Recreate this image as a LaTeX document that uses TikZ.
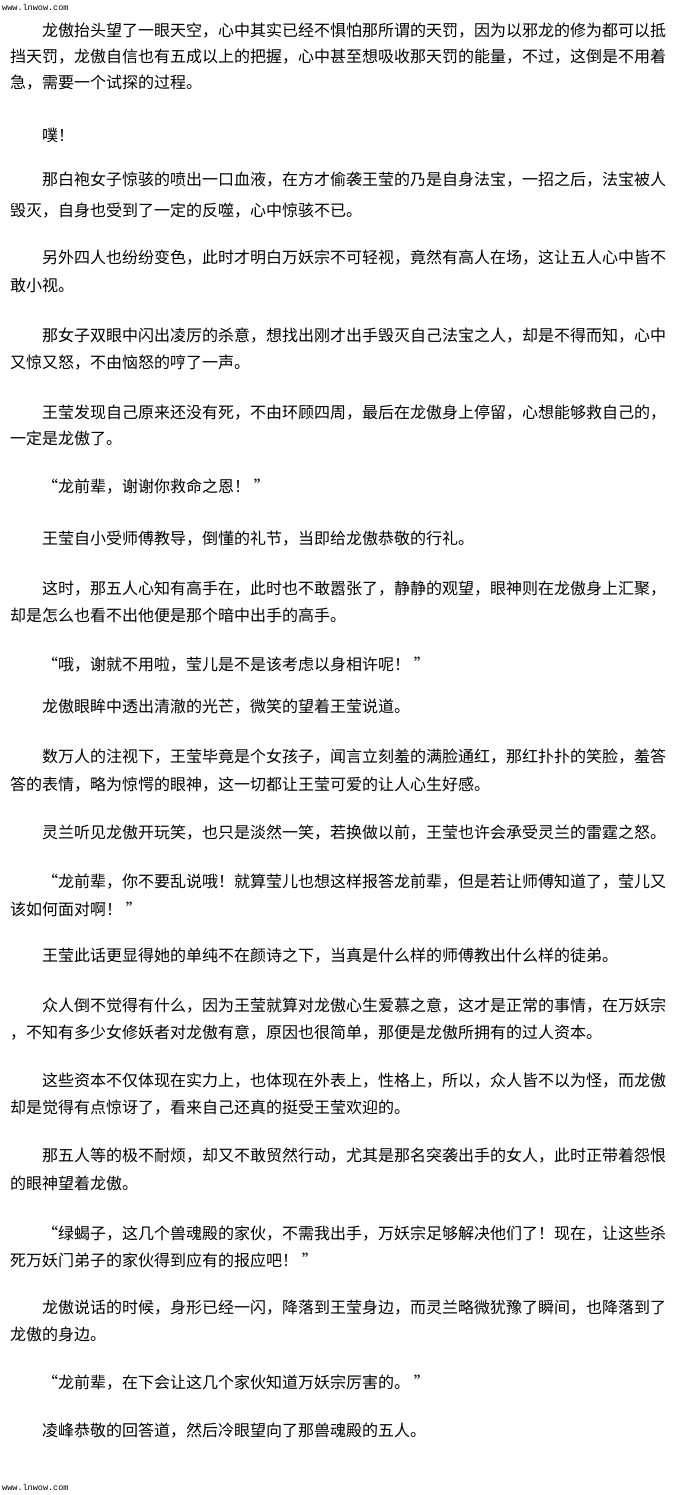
\documentclass[tikz,border=0pt]{standalone}
\usepackage{fontspec}
\newfontfamily\cjk{Noto Sans CJK SC}
\newfontfamily\webmono{Liberation Mono}
\newcommand\myoq{\makebox[1em][r]{“}}
\newcommand\mycq{\makebox[1em][l]{”}}
\begin{document}
\begin{tikzpicture}[x=1pt,y=-1pt,
  txt/.style={anchor=base west, inner sep=0pt, font=\cjk\fontsize{16}{16}\selectfont, text=black},
  web/.style={anchor=west, inner sep=0pt, font=\webmono\fontsize{8.5}{8.5}\selectfont, text=black}]
\useasboundingbox[fill=white] (0,0) rectangle (680,1495);
\node[web] (hdr) at (2,7) {www.lnwow.com};
\node[txt] (l1) at (42,37) {龙傲抬头望了一眼天空，心中其实已经不惧怕那所谓的天罚，因为以邪龙的修为都可以抵};
\node[txt] (l2) at (10,63) {挡天罚，龙傲自信也有五成以上的把握，心中甚至想吸收那天罚的能量，不过，这倒是不用着};
\node[txt] (l3) at (10,89) {急，需要一个试探的过程。};
\node[txt] (l4) at (42,142) {噗！};
\node[txt] (l5) at (42,186) {那白袍女子惊骇的喷出一口血液，在方才偷袭王莹的乃是自身法宝，一招之后，法宝被人};
\node[txt] (l6) at (10,217) {毁灭，自身也受到了一定的反噬，心中惊骇不已。};
\node[txt] (l7) at (42,264) {另外四人也纷纷变色，此时才明白万妖宗不可轻视，竟然有高人在场，这让五人心中皆不};
\node[txt] (l8) at (10,292) {敢小视。};
\node[txt] (l9) at (42,341) {那女子双眼中闪出凌厉的杀意，想找出刚才出手毁灭自己法宝之人，却是不得而知，心中};
\node[txt] (l10) at (10,368) {又惊又怒，不由恼怒的哼了一声。};
\node[txt] (l11) at (42,418) {王莹发现自己原来还没有死，不由环顾四周，最后在龙傲身上停留，心想能够救自己的，};
\node[txt] (l12) at (10,444) {一定是龙傲了。};
\node[txt] (l13) at (42,492) {\myoq 龙前辈，谢谢你救命之恩！ \mycq};
\node[txt] (l14) at (42,544) {王莹自小受师傅教导，倒懂的礼节，当即给龙傲恭敬的行礼。};
\node[txt] (l15) at (42,594) {这时，那五人心知有高手在，此时也不敢嚣张了，静静的观望，眼神则在龙傲身上汇聚，};
\node[txt] (l16) at (10,621) {却是怎么也看不出他便是那个暗中出手的高手。};
\node[txt] (l17) at (42,670) {\myoq 哦，谢就不用啦，莹儿是不是该考虑以身相许呢！ \mycq};
\node[txt] (l18) at (42,712) {龙傲眼眸中透出清澈的光芒，微笑的望着王莹说道。};
\node[txt] (l19) at (42,762) {数万人的注视下，王莹毕竟是个女孩子，闻言立刻羞的满脸通红，那红扑扑的笑脸，羞答};
\node[txt] (l20) at (10,790) {答的表情，略为惊愕的眼神，这一切都让王莹可爱的让人心生好感。};
\node[txt] (l21) at (42,838) {灵兰听见龙傲开玩笑，也只是淡然一笑，若换做以前，王莹也许会承受灵兰的雷霆之怒。};
\node[txt] (l22) at (42,887) {\myoq 龙前辈，你不要乱说哦！就算莹儿也想这样报答龙前辈，但是若让师傅知道了，莹儿又};
\node[txt] (l23) at (10,915) {该如何面对啊！ \mycq};
\node[txt] (l24) at (42,961) {王莹此话更显得她的单纯不在颜诗之下，当真是什么样的师傅教出什么样的徒弟。};
\node[txt] (l25) at (42,1011) {众人倒不觉得有什么，因为王莹就算对龙傲心生爱慕之意，这才是正常的事情，在万妖宗};
\node[txt] (l26) at (10,1038) {，不知有多少女修妖者对龙傲有意，原因也很简单，那便是龙傲所拥有的过人资本。};
\node[txt] (l27) at (42,1086) {这些资本不仅体现在实力上，也体现在外表上，性格上，所以，众人皆不以为怪，而龙傲};
\node[txt] (l28) at (10,1113) {却是觉得有点惊讶了，看来自己还真的挺受王莹欢迎的。};
\node[txt] (l29) at (42,1161) {那五人等的极不耐烦，却又不敢贸然行动，尤其是那名突袭出手的女人，此时正带着怨恨};
\node[txt] (l30) at (10,1189) {的眼神望着龙傲。};
\node[txt] (l31) at (42,1239) {\myoq 绿蝎子，这几个兽魂殿的家伙，不需我出手，万妖宗足够解决他们了！现在，让这些杀};
\node[txt] (l32) at (10,1266) {死万妖门弟子的家伙得到应有的报应吧！ \mycq};
\node[txt] (l33) at (42,1313) {龙傲说话的时候，身形已经一闪，降落到王莹身边，而灵兰略微犹豫了瞬间，也降落到了};
\node[txt] (l34) at (10,1340) {龙傲的身边。};
\node[txt] (l35) at (42,1388) {\myoq 龙前辈，在下会让这几个家伙知道万妖宗厉害的。 \mycq};
\node[txt] (l36) at (42,1436) {凌峰恭敬的回答道，然后冷眼望向了那兽魂殿的五人。};
\node[web] (ftr) at (2,1487) {www.lnwow.com};
\end{tikzpicture}
\end{document}
